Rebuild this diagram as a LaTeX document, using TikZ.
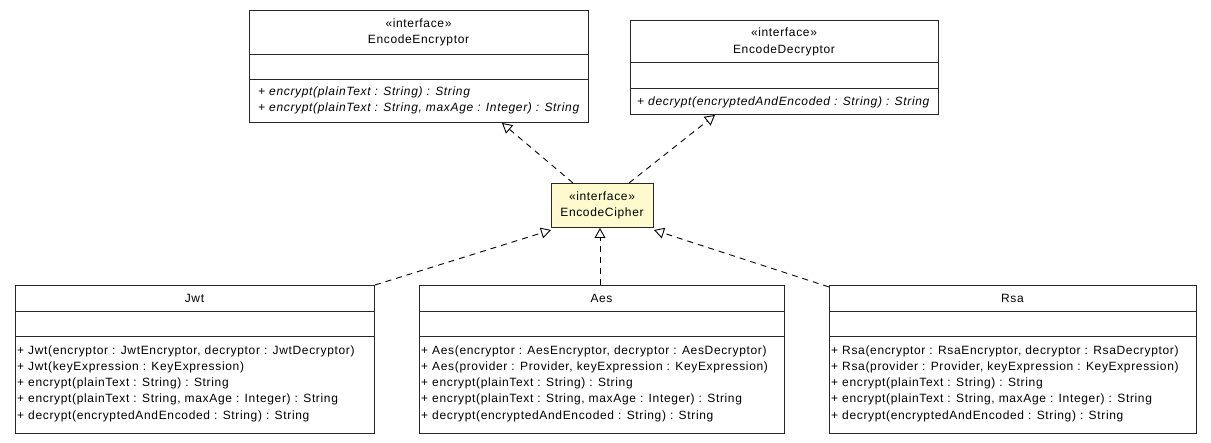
\documentclass[tikz,border=0pt]{standalone}
\usepackage{fontspec}
\setmainfont{Liberation Sans}[LetterSpace=5.5]
\usetikzlibrary{arrows.meta}
\definecolor{cipherfill}{RGB}{255,249,206}
\definecolor{linecol}{RGB}{40,40,40}
\tikzset{
  umlbox/.style={draw=linecol, line width=1pt, fill=white, anchor=north west, inner sep=0pt},
  sepline/.style={draw=linecol, line width=1pt},
  txt/.style={inner sep=0pt, font=\fontsize{12}{16.3}\selectfont},
  mtxt/.style={txt, align=left, anchor=west},
  realize/.style={draw=black, line width=0.9pt, dash pattern=on 6pt off 5pt,
    -{Triangle[open, length=10pt, width=11pt, fill=white]}},
}
\begin{document}
\begin{tikzpicture}[x=1pt,y=-1pt]
\useasboundingbox (0,0) rectangle (1211,443);
% EncodeEncryptor
\node[umlbox, minimum width=339pt, minimum height=112pt] (enc) at (249,10) {};
\draw[sepline] (249,55) -- (588,55);
\draw[sepline] (249,80) -- (588,80);
\node[txt] (encst) at (418.5,23) {«interface»};
\node[txt] (encnm) at (418.5,40) {EncodeEncryptor};
\node[mtxt] (encm) at (258,100.5) {\itshape + encrypt(plainText : String) : String\\\itshape + encrypt(plainText : String, maxAge : Integer) : String};
% EncodeDecryptor
\node[umlbox, minimum width=308pt, minimum height=94pt] (dec) at (630,20) {};
\draw[sepline] (630,63) -- (938,63);
\draw[sepline] (630,89) -- (938,89);
\node[txt] (decst) at (784,32) {«interface»};
\node[txt] (decnm) at (784,50) {EncodeDecryptor};
\node[mtxt] (decm) at (637,102) {\itshape + decrypt(encryptedAndEncoded : String) : String};
% EncodeCipher
\node[umlbox, fill=cipherfill, minimum width=102pt, minimum height=44pt] (cip) at (551,183) {};
\node[txt] (cipst) at (602,196) {«interface»};
\node[txt] (cipnm) at (602,213) {EncodeCipher};
% Jwt
\node[umlbox, minimum width=359pt, minimum height=148pt] (jwt) at (15,285) {};
\draw[sepline] (15,312) -- (374,312);
\draw[sepline] (15,337) -- (374,337);
\node[txt] (jwtnm) at (194.5,298) {Jwt};
\node[mtxt] (jwtm) at (17,383.5) {+ Jwt(encryptor : JwtEncryptor, decryptor : JwtDecryptor)\\+ Jwt(keyExpression : KeyExpression)\\+ encrypt(plainText : String) : String\\+ encrypt(plainText : String, maxAge : Integer) : String\\+ decrypt(encryptedAndEncoded : String) : String};
% Aes
\node[umlbox, minimum width=365pt, minimum height=148pt] (aes) at (419,285) {};
\draw[sepline] (419,312) -- (784,312);
\draw[sepline] (419,337) -- (784,337);
\node[txt] (aesnm) at (601.5,298) {Aes};
\node[mtxt] (aesm) at (421,383.5) {+ Aes(encryptor : AesEncryptor, decryptor : AesDecryptor)\\+ Aes(provider : Provider, keyExpression : KeyExpression)\\+ encrypt(plainText : String) : String\\+ encrypt(plainText : String, maxAge : Integer) : String\\+ decrypt(encryptedAndEncoded : String) : String};
% Rsa
\node[umlbox, minimum width=367pt, minimum height=148pt] (rsa) at (829,285) {};
\draw[sepline] (829,312) -- (1196,312);
\draw[sepline] (829,337) -- (1196,337);
\node[txt] (rsanm) at (1012.5,298) {Rsa};
\node[mtxt] (rsam) at (831,383.5) {+ Rsa(encryptor : RsaEncryptor, decryptor : RsaDecryptor)\\+ Rsa(provider : Provider, keyExpression : KeyExpression)\\+ encrypt(plainText : String) : String\\+ encrypt(plainText : String, maxAge : Integer) : String\\+ decrypt(encryptedAndEncoded : String) : String};
% connectors
\draw[realize] ([xshift=22pt]cip.north west) -- ([xshift=253pt]enc.south west);
\draw[realize] ([xshift=78pt]cip.north west) -- ([xshift=85pt]dec.south west);
\draw[realize] (jwt.north east) -- ([yshift=-2pt]cip.south west);
\draw[realize] ([xshift=181pt]aes.north west) -- ([xshift=49pt]cip.south west);
\draw[realize] ([yshift=-2pt]rsa.north west) -- ([yshift=-2pt]cip.south east);
\end{tikzpicture}
\end{document}
